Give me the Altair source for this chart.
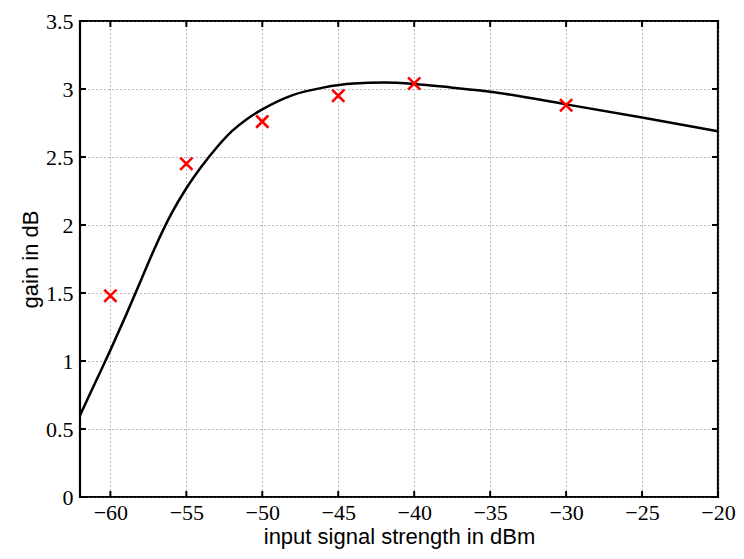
import altair as alt
import pandas as pd

# fitted gain curve
curve_x = [-62, -61, -60, -59, -58, -57, -56, -55, -54, -53, -52, -51, -50, -48, -46, -44, -42, -40, -37.5, -35, -30, -25, -20]
curve_y = [0.60, 0.84, 1.08, 1.33, 1.59, 1.85, 2.08, 2.27, 2.43, 2.57, 2.69, 2.78, 2.85, 2.955, 3.01, 3.04, 3.047, 3.037, 3.01, 2.98, 2.887, 2.79, 2.69]

# measured points
meas_x = [-60, -55, -50, -45, -40, -30]
meas_y = [1.48, 2.45, 2.76, 2.95, 3.04, 2.88]

x_ticks = [-60, -55, -50, -45, -40, -35, -30, -25, -20]
y_ticks = [0, 0.5, 1, 1.5, 2, 2.5, 3, 3.5]

W, H = 638, 476
TL = 6  # tick length

curve_df = pd.DataFrame({"x": curve_x, "y": curve_y})
meas_df = pd.DataFrame({"x": meas_x, "y": meas_y})
xt_df = pd.DataFrame({"x": x_ticks})
yt_df = pd.DataFrame({"y": y_ticks})

xs = alt.Scale(domain=[-62, -20], nice=False, zero=False)
ys = alt.Scale(domain=[0, 3.5], nice=False, zero=False)

serif = "Liberation Serif"
sans = "Liberation Sans"

x_axis = alt.Axis(values=x_ticks, title="input signal strength in dBm", grid=True, ticks=False, domain=False,
                  labelFont=serif, labelFontSize=22, labelColor="black", labelPadding=5,
                  titleFont=sans, titleFontSize=22, titleFontWeight="normal", titleColor="black",
                  titleY=46, titleBaseline="alphabetic",
                  gridColor="#777777", gridDash=[1, 3], gridWidth=1, format="~g", labelFlush=False)
y_axis = alt.Axis(values=y_ticks, title="gain in dB", grid=True, ticks=False, domain=False,
                  labelFont=serif, labelFontSize=22, labelColor="black", labelPadding=7,
                  titleFont=sans, titleFontSize=22, titleFontWeight="normal", titleColor="black",
                  titleX=-43, titleBaseline="alphabetic",
                  gridColor="#777777", gridDash=[1, 3], gridWidth=1, format="~g", labelFlush=False)

X = lambda: alt.X("x:Q", scale=xs, axis=x_axis)
Y = lambda: alt.Y("y:Q", scale=ys, axis=y_axis)

line = alt.Chart(curve_df).mark_line(color="black", strokeWidth=2.5, interpolate="monotone").encode(
    x=X(), y=Y())

pts = alt.Chart(meas_df).mark_point(
    shape="M-1,-1L1,1M-1,1L1,-1", filled=False, stroke="#ff0000", strokeWidth=2.6, size=150, opacity=1
).encode(x=X(), y=Y())

tick_style = dict(color="black", strokeWidth=2)
xt_bottom = alt.Chart(xt_df).mark_rule(**tick_style).encode(
    x=X(), y=alt.value(H), y2=alt.value(H - TL))
xt_top = alt.Chart(xt_df).mark_rule(**tick_style).encode(
    x=X(), y=alt.value(0), y2=alt.value(TL))
yt_left = alt.Chart(yt_df).mark_rule(**tick_style).encode(
    y=Y(), x=alt.value(0), x2=alt.value(TL))
yt_right = alt.Chart(yt_df).mark_rule(**tick_style).encode(
    y=Y(), x=alt.value(W - TL), x2=alt.value(W))

chart = alt.layer(line, pts, xt_bottom, xt_top, yt_left, yt_right).properties(
    width=W, height=H,
    background="white",
    padding={"left": 72, "top": 13, "right": 18, "bottom": 54},
    autosize=alt.AutoSizeParams(type="none"),
).configure_view(stroke="black", strokeWidth=2.2)

chart.save("out.html", embed_options={"renderer": "svg", "actions": False})
